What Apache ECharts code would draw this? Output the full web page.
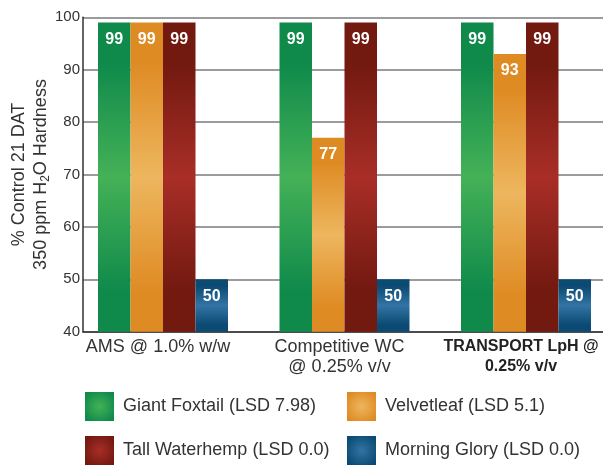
<!DOCTYPE html>
<html>
<head>
<meta charset="utf-8">
<script src="https://cdn.jsdelivr.net/npm/echarts@6/dist/echarts.min.js"></script>
<style>
html,body{margin:0;padding:0;background:#fff;}
#chart{width:603px;height:468px;}
</style>
</head>
<body>
<div id="chart"></div>
<script>
var categories = ['AMS @ 1.0% w/w', 'Competitive WC\n@ 0.25% v/v', 'TRANSPORT LpH @\n0.25% v/v'];
var seriesNames = ['Giant Foxtail (LSD 7.98)', 'Velvetleaf (LSD 5.1)', 'Tall Waterhemp (LSD 0.0)', 'Morning Glory (LSD 0.0)'];
var giantFoxtail = [99, 99, 99];
var velvetleaf = [99, 77, 93];
var tallWaterhemp = [99, 99, 99];
var morningGlory = [50, 50, 50];
var yTicks = [40, 50, 60, 70, 80, 90, 100];

var seriesData = [giantFoxtail, velvetleaf, tallWaterhemp, morningGlory];
var darkColors = ['#0F8A4B', '#DF8B24', '#721910', '#0B4A72'];
var lightColors = ['#45B157', '#EDB65E', '#A82E27', '#3274A5'];

function barGrad(i) {
  return new echarts.graphic.LinearGradient(0, 0, 0, 1, [
    {offset: 0, color: darkColors[i]},
    {offset: 0.13, color: darkColors[i]},
    {offset: 0.5, color: lightColors[i]},
    {offset: 0.87, color: darkColors[i]},
    {offset: 1, color: darkColors[i]}
  ]);
}
function iconGrad(i) {
  return new echarts.graphic.RadialGradient(0.5, 0.5, 0.6, [
    {offset: 0, color: lightColors[i]},
    {offset: 1, color: darkColors[i]}
  ]);
}

var FONT = 'Liberation Sans';
var gridTop = 17.3, gridBottom = 136.3;

var series = seriesData.map(function (d, i) {
  return {
    name: seriesNames[i],
    type: 'bar',
    xAxisIndex: 1,
    yAxisIndex: 1,
    data: d,
    barWidth: 32.5,
    barGap: '0%',
    itemStyle: {color: barGrad(i)},
    label: {
      show: true,
      position: 'insideTop',
      distance: 9,
      color: '#fff',
      fontSize: 16,
      fontWeight: 'bold',
      fontFamily: FONT
    }
  };
});

var legendPos = [[85, 392], [347, 392], [85, 436], [347, 436]];
var legends = seriesNames.map(function (n, i) {
  return {
    left: legendPos[i][0],
    top: legendPos[i][1],
    padding: 0,
    itemWidth: 29,
    itemHeight: 29,
    icon: 'rect',
    selectedMode: false,
    data: [{name: n, itemStyle: {color: iconGrad(i)}}],
    textStyle: {fontSize: 18, color: '#333', fontFamily: FONT, padding: [13, 0, 0, 4]}
  };
});

var option = {
  animation: false,
  backgroundColor: '#fff',
  legend: legends,
  grid: [
    {left: 83, right: 0, top: gridTop, bottom: gridBottom, containLabel: false, outerBoundsMode: 'none'},
    {left: 72.25, width: 544.5, top: gridTop, bottom: gridBottom, containLabel: false, outerBoundsMode: 'none'}
  ],
  xAxis: [
    {
      gridIndex: 0, type: 'value', min: 0, max: 1,
      axisLine: {show: true, lineStyle: {color: '#333', width: 1.5}},
      axisTick: {show: false}, axisLabel: {show: false}, splitLine: {show: false}
    },
    {
      gridIndex: 1, type: 'category', data: categories,
      axisLine: {show: false}, axisTick: {show: false},
      axisLabel: {
        interval: 0,
        hideOverlap: false,
        margin: 5,
        fontSize: 18,
        lineHeight: 20,
        color: '#333',
        fontFamily: FONT,
        padding: [0, 10, 0, 0],
        formatter: function (v, idx) {
          if (idx === 2) {
            return v.split('\n').map(function (s) { return '{b|' + s + '}'; }).join('\n');
          }
          return v;
        },
        rich: {
          b: {fontWeight: 'bold', fontSize: 16, lineHeight: 20, color: '#222', fontFamily: FONT}
        }
      }
    }
  ],
  yAxis: [
    {
      gridIndex: 0, type: 'value',
      min: yTicks[0], max: yTicks[yTicks.length - 1], interval: 10,
      axisLine: {show: true, lineStyle: {color: '#333', width: 1.5}},
      axisTick: {show: false},
      axisLabel: {fontSize: 15, color: '#333', margin: 3, fontFamily: FONT},
      splitLine: {show: true, lineStyle: {color: '#7a7a7a', width: 1.5}},
      name: '% Control 21 DAT\n350 ppm H{sub|2}O Hardness',
      nameLocation: 'middle',
      nameGap: 31,
      nameMoveOverlap: false,
      nameTextStyle: {
        fontSize: 18, lineHeight: 22, color: '#333', fontFamily: FONT,
        rich: {sub: {fontSize: 12, lineHeight: 12, verticalAlign: 'bottom', color: '#333', fontFamily: FONT}}
      }
    },
    {
      gridIndex: 1, type: 'value', show: false,
      min: yTicks[0], max: yTicks[yTicks.length - 1], interval: 10,
      splitLine: {show: false}
    }
  ],
  series: series
};

var chart = echarts.init(document.getElementById('chart'), null, {renderer: 'canvas'});
chart.setOption(option);
</script>
</body>
</html>
